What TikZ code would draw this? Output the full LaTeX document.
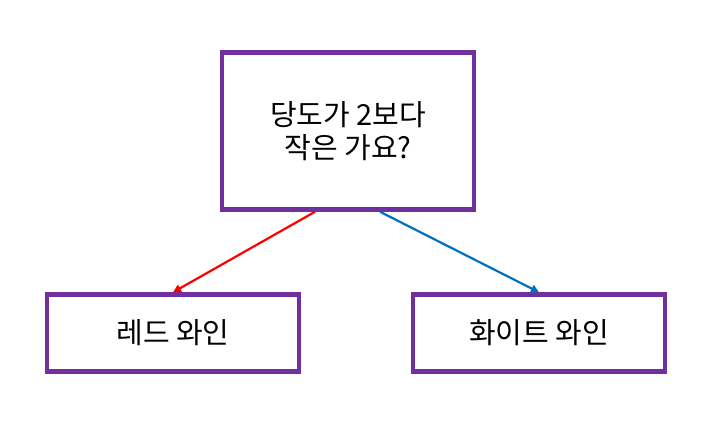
\documentclass[tikz,border=0pt]{standalone}
\usepackage{fontspec}
\setmainfont{Noto Sans CJK KR}
\usetikzlibrary{arrows.meta}
\definecolor{boxline}{HTML}{7030A0}
\definecolor{redarrow}{HTML}{FF0000}
\definecolor{bluearrow}{HTML}{0070C0}
\tikzset{
  choice/.style={draw=boxline, line width=4.5pt, fill=white, minimum width=252pt,
    align=center, inner sep=0pt, font=\fontsize{29}{33}\selectfont},
  link/.style={-{Triangle[length=8pt,width=8pt]}, line width=2.2pt},
}
\begin{document}
\begin{tikzpicture}[x=1pt,y=-1pt]
  \useasboundingbox (0,0) rectangle (712,432);
  \node[choice, minimum height=157pt] (question) at (348,131) {당도가 2보다\\작은 가요?};
  \node[choice, minimum height=77pt] (red) at (173,333) {레드 와인};
  \node[choice, minimum height=77pt] (white) at (539,333) {화이트 와인};

  \draw[link, redarrow] ([xshift=-33pt]question.south) -- (red.north);
  \draw[link, bluearrow] ([xshift=32pt]question.south) -- (white.north);
\end{tikzpicture}
\end{document}
